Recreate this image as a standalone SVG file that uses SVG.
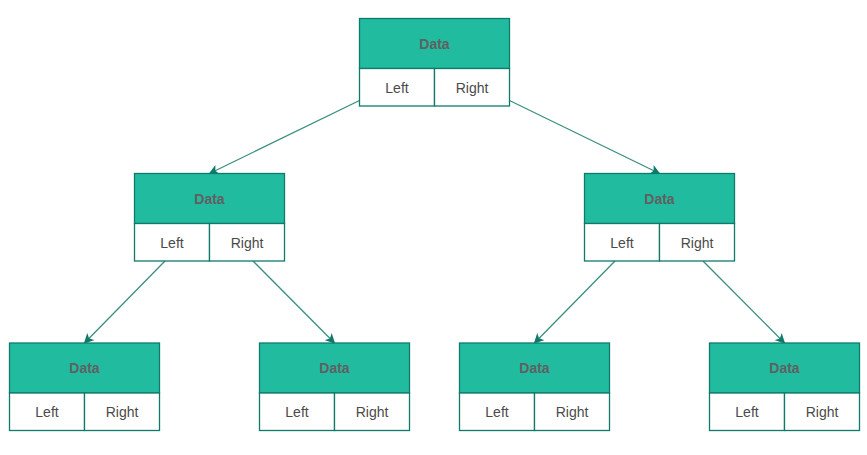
<svg xmlns="http://www.w3.org/2000/svg" width="867" height="455" viewBox="0 0 867 455">
<style>
.d{fill:#21bca0;stroke:#107a6a;stroke-width:1.3}
.c{fill:#ffffff;stroke:#107a6a;stroke-width:1.3}
.t{font-family:"Liberation Sans",Arial,sans-serif;font-size:14px;text-anchor:middle;dominant-baseline:central}
.b{font-weight:bold;fill:#606060}
.n{fill:#4a4a4a}
.e{fill:none;stroke:#3a8f80;stroke-width:1.3;marker-end:url(#ah)}
</style>
<defs>
<marker id="ah" viewBox="0 0 10 10" refX="9" refY="5" markerWidth="10" markerHeight="10" markerUnits="userSpaceOnUse" orient="auto">
<path d="M0,0 L10,5 L0,10 L2.5,5 Z" fill="#107a6a"/>
</marker>
<g id="node">
<rect class="d" x="0" y="0" width="150" height="50"/>
<rect class="c" x="0" y="50" width="75" height="37.5"/>
<rect class="c" x="75" y="50" width="75" height="37.5"/>
<text class="t b" x="75" y="25">Data</text>
<text class="t n" x="37.5" y="69">Left</text>
<text class="t n" x="112.5" y="69">Right</text>
</g>
</defs>
<g id="connectors">
<line class="e" x1="359.5" y1="100.5" x2="209.5" y2="173.5"/>
<line class="e" x1="509.5" y1="100.5" x2="659.5" y2="173.5"/>
<line class="e" x1="165" y1="261" x2="84.5" y2="343"/>
<line class="e" x1="253" y1="261" x2="334.5" y2="343"/>
<line class="e" x1="615" y1="261" x2="534.5" y2="343"/>
<line class="e" x1="703" y1="261" x2="784.5" y2="343"/>
</g>
<g id="n-root"><use href="#node" x="359.5" y="18.5"/></g>
<g id="n-l"><use href="#node" x="134.5" y="173.5"/></g>
<g id="n-r"><use href="#node" x="584.5" y="173.5"/></g>
<g id="n-ll"><use href="#node" x="9.5" y="343"/></g>
<g id="n-lr"><use href="#node" x="259.5" y="343"/></g>
<g id="n-rl"><use href="#node" x="459.5" y="343"/></g>
<g id="n-rr"><use href="#node" x="709.5" y="343"/></g>
</svg>
